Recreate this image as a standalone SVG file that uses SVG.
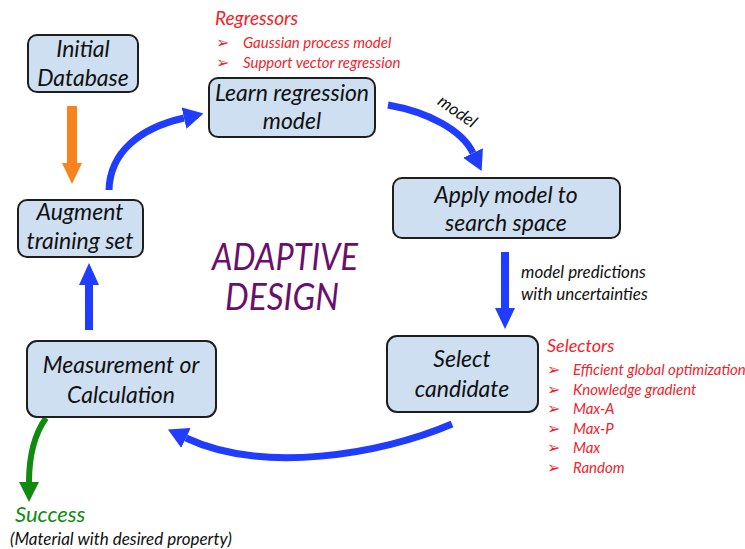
<svg xmlns="http://www.w3.org/2000/svg" width="745" height="549" viewBox="0 0 745 549">
  <style>
    .box { fill: #cddff0; stroke: #1e1e1e; stroke-width: 2; }
    .lbl { font-family: Lato, "Open Sans", "Liberation Sans", sans-serif; font-style: italic; fill: #111; text-anchor: middle; font-size: 23px; }
    .note { font-family: Lato, "Open Sans", "Liberation Sans", sans-serif; font-style: italic; fill: #111; font-size: 17px; }
    .red { font-family: Lato, "Open Sans", "Liberation Sans", sans-serif; font-style: italic; fill: #f2232b; }
    .bul { font-family: "DejaVu Sans", sans-serif; fill: #f2232b; font-size: 16px; }
    .blue { fill: none; stroke: #1f3cff; stroke-width: 7; }
    .bluehead { fill: #1f3cff; }
  </style>
  <defs>
    <marker id="headBlue" markerUnits="userSpaceOnUse" markerWidth="20" markerHeight="22" viewBox="0 0 20 22" refX="0" refY="11" orient="auto">
      <path d="M0,0 L20,11 L0,22 z" fill="#1f3cff"/>
    </marker>
    <marker id="headGreen" markerUnits="userSpaceOnUse" markerWidth="20" markerHeight="20" viewBox="0 0 20 20" refX="0" refY="10" orient="auto">
      <path d="M0,0 L20,10 L0,20 z" fill="#128a12"/>
    </marker>
  </defs>

  <!-- connectors -->
  <g id="connectors">
    <!-- initial database feeds the training set -->
    <rect x="67" y="106" width="10" height="58" fill="#f7821e"/>
    <polygon points="62,163 82,163 72,184" fill="#f7821e"/>
    <!-- augment -> learn -->
    <path class="blue" d="M109,190 C110,152 140,128 184,118" marker-end="url(#headBlue)"/>
    <!-- learn -> apply -->
    <path class="blue" d="M388,105 C428,112 462,130 473,153" marker-end="url(#headBlue)"/>
    <!-- apply -> select -->
    <rect x="501" y="252" width="8" height="57" class="bluehead"/>
    <polygon points="495,308 515,308 505,329" class="bluehead"/>
    <!-- select -> measurement -->
    <path class="blue" d="M452,424 C380,455 262,474 186,438" marker-end="url(#headBlue)"/>
    <!-- measurement -> augment -->
    <rect x="85" y="284" width="8" height="46" class="bluehead"/>
    <polygon points="79,285 99,285 89,263" class="bluehead"/>
    <!-- measurement -> success -->
    <path d="M46,418 C36,432 29,452 29,482" fill="none" stroke="#128a12" stroke-width="6" marker-end="url(#headGreen)"/>

    <text class="note" font-size="15" x="457" y="117" text-anchor="middle" transform="rotate(35 457 112)">model</text>
    <text class="note" x="521" y="278">model predictions</text>
    <text class="note" x="521" y="300">with uncertainties</text>
  </g>

  <g id="initial-database">
    <rect class="box" x="28" y="35" width="110" height="57" rx="9"/>
    <text class="lbl" x="83" y="57">Initial</text>
    <text class="lbl" x="83" y="86">Database</text>
  </g>

  <g id="augment-training-set">
    <rect class="box" x="18" y="200" width="125" height="57" rx="9"/>
    <text class="lbl" x="80" y="220">Augment</text>
    <text class="lbl" x="80" y="249">training set</text>
  </g>

  <g id="learn-regression-model">
    <rect class="box" x="209" y="78" width="166" height="59" rx="9"/>
    <text class="lbl" x="292" y="101">Learn regression</text>
    <text class="lbl" x="292" y="129">model</text>
  </g>

  <g id="regressors">
    <text class="red" font-size="19" x="215" y="25">Regressors</text>
    <text class="bul" x="216" y="48">➢</text>
    <text class="red" font-size="15" x="243" y="48">Gaussian process model</text>
    <text class="bul" x="216" y="68">➢</text>
    <text class="red" font-size="15" x="243" y="68">Support vector regression</text>
  </g>

  <g id="apply-model">
    <rect class="box" x="393" y="178" width="227" height="60" rx="9"/>
    <text class="lbl" x="506" y="203">Apply model to</text>
    <text class="lbl" x="506" y="231">search space</text>
  </g>

  <g id="select-candidate">
    <rect class="box" x="387" y="336" width="151" height="76" rx="10"/>
    <text class="lbl" font-size="24" x="462" y="367">Select</text>
    <text class="lbl" font-size="24" x="462" y="397">candidate</text>
  </g>

  <g id="selectors">
    <text class="red" font-size="18" x="547" y="352">Selectors</text>
    <g class="bul">
      <text x="547" y="375">➢</text>
      <text x="547" y="394.5">➢</text>
      <text x="547" y="414">➢</text>
      <text x="547" y="433.5">➢</text>
      <text x="547" y="453">➢</text>
      <text x="547" y="472.5">➢</text>
    </g>
    <g class="red" font-size="15">
      <text x="573" y="375">Efficient global optimization</text>
      <text x="573" y="394.5">Knowledge gradient</text>
      <text x="573" y="414">Max-A</text>
      <text x="573" y="433.5">Max-P</text>
      <text x="573" y="453">Max</text>
      <text x="573" y="472.5">Random</text>
    </g>
  </g>

  <g id="measurement">
    <rect class="box" x="27" y="341" width="189" height="76" rx="10"/>
    <text class="lbl" font-size="24" x="121" y="373">Measurement or</text>
    <text class="lbl" font-size="24" x="121" y="403">Calculation</text>
  </g>

  <g id="success">
    <text font-family="Lato, 'Open Sans', 'Liberation Sans', sans-serif" font-style="italic" font-size="22" fill="#128a12" x="15" y="522">Success</text>
    <text class="note" font-size="21" x="10" y="545">(Material with desired property)</text>
  </g>

  <g id="title" font-family="Lato, 'Open Sans', 'Liberation Sans', sans-serif" font-style="italic" font-size="36" fill="#6a0f6e" text-anchor="middle">
    <text x="285" y="270" textLength="146" lengthAdjust="spacingAndGlyphs">ADAPTIVE</text>
    <text x="282" y="310" textLength="114" lengthAdjust="spacingAndGlyphs">DESIGN</text>
  </g>
</svg>
